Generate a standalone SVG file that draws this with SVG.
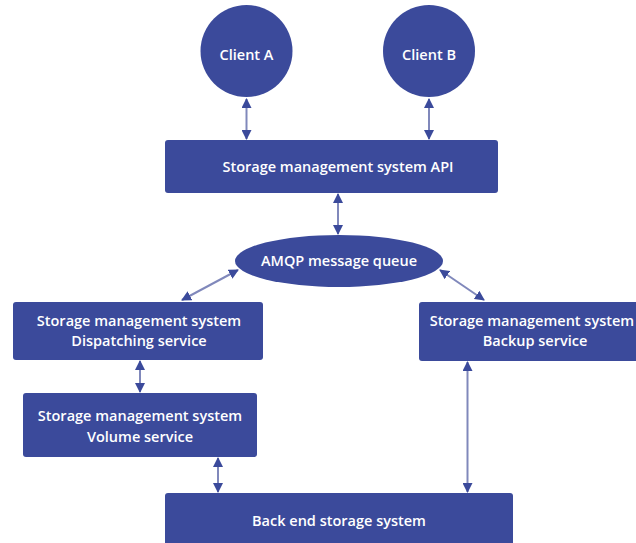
<svg xmlns="http://www.w3.org/2000/svg" width="636" height="543" viewBox="0 0 636 543">
<style>
.n{fill:#3b4a9b}
.t{fill:#ffffff;font-family:"Open Sans","Noto Sans",sans-serif;font-size:14.5px;font-weight:600;text-anchor:middle}
.c{stroke:#8088bb;stroke-width:2;fill:none;marker-start:url(#a);marker-end:url(#a)}
</style>
<defs>
<marker id="a" viewBox="0 0 10 10" refX="9" refY="5" markerWidth="10" markerHeight="10" markerUnits="userSpaceOnUse" orient="auto-start-reverse">
<path d="M0,0 L10,5 L0,10 z" fill="#3b4a9b"/>
</marker>
</defs>
<rect width="636" height="543" fill="#ffffff"/>
<g id="connectors">
<line class="c" x1="246.5" y1="99" x2="246.5" y2="139"/>
<line class="c" x1="429" y1="99" x2="429" y2="139"/>
<line class="c" x1="338" y1="194" x2="338" y2="234"/>
<line class="c" x1="238" y1="270" x2="182" y2="300"/>
<line class="c" x1="440" y1="270" x2="484" y2="300"/>
<line class="c" x1="140" y1="361" x2="140" y2="392"/>
<line class="c" x1="218" y1="458" x2="218" y2="492"/>
<line class="c" x1="467.5" y1="362" x2="467.5" y2="492"/>
</g>
<g id="clientA"><circle class="n" cx="246.5" cy="51" r="46"/><text class="t" x="246.5" y="60">Client A</text></g>
<g id="clientB"><circle class="n" cx="429" cy="51" r="46"/><text class="t" x="429" y="60">Client B</text></g>
<g id="api"><rect class="n" x="165" y="140" width="333" height="53" rx="3"/><text class="t" x="338" y="172">Storage management system API</text></g>
<g id="amqp"><ellipse class="n" cx="339" cy="261" rx="104" ry="26"/><text class="t" x="339" y="266">AMQP message queue</text></g>
<g id="dispatch"><rect class="n" x="13" y="302" width="250" height="58" rx="3"/><text class="t" x="139" y="326">Storage management system</text><text class="t" x="139" y="346">Dispatching service</text></g>
<g id="volume"><rect class="n" x="23" y="393" width="234" height="64" rx="3"/><text class="t" x="140" y="421">Storage management system</text><text class="t" x="140" y="442">Volume service</text></g>
<g id="backup"><rect class="n" x="419" y="302" width="236" height="59" rx="3"/><text class="t" x="532" y="326">Storage management system</text><text class="t" x="535" y="346">Backup service</text></g>
<g id="backend"><rect class="n" x="165" y="493" width="348" height="55" rx="3"/><text class="t" x="339" y="526">Back end storage system</text></g>
</svg>
